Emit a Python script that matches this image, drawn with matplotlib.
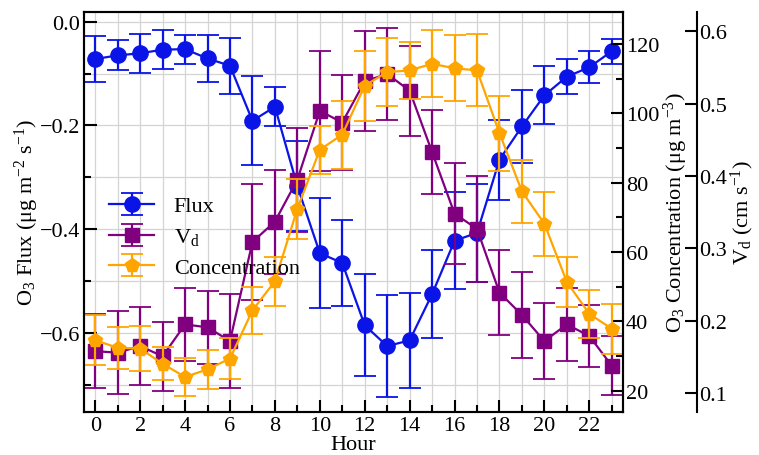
import numpy as np
import matplotlib
matplotlib.use("Agg")
import matplotlib.pyplot as plt
from matplotlib.ticker import MultipleLocator

plt.rcParams['font.family'] = ['Liberation Serif', 'DejaVu Serif']
plt.rcParams['mathtext.fontset'] = 'custom'
plt.rcParams['mathtext.rm'] = 'Liberation Serif'
plt.rcParams['mathtext.it'] = 'Liberation Serif:italic'
plt.rcParams['font.size'] = 16

# hourly means and errors
hours = list(range(24))
flux = [-0.072, -0.065, -0.061, -0.054, -0.053, -0.071, -0.085, -0.191, -0.164, -0.317,
        -0.446, -0.465, -0.585, -0.625, -0.614, -0.525, -0.422, -0.407, -0.266, -0.202,
        -0.142, -0.106, -0.088, -0.057]
flux_err = [0.044, 0.029, 0.037, 0.037, 0.028, 0.045, 0.054, 0.086, 0.038, 0.087,
            0.106, 0.083, 0.098, 0.098, 0.092, 0.085, 0.094, 0.095, 0.077, 0.071,
            0.056, 0.034, 0.031, 0.024]
vd = [0.158, 0.156, 0.165, 0.151, 0.195, 0.191, 0.172, 0.309, 0.337, 0.395,
      0.490, 0.474, 0.531, 0.541, 0.518, 0.433, 0.348, 0.327, 0.239, 0.208,
      0.172, 0.195, 0.179, 0.138]
vd_err = [0.051, 0.057, 0.054, 0.048, 0.050, 0.050, 0.065, 0.080, 0.072, 0.072,
          0.083, 0.066, 0.069, 0.064, 0.062, 0.058, 0.070, 0.073, 0.059, 0.060,
          0.053, 0.051, 0.043, 0.041]
conc = [34.6, 32.4, 32.2, 27.8, 24.0, 26.2, 29.3, 43.2, 51.6, 72.5,
        89.5, 93.9, 108.0, 111.9, 112.4, 114.3, 113.0, 112.4, 94.3, 77.5,
        68.2, 51.4, 42.2, 37.9]
conc_err = [7.2, 6.0, 6.5, 4.7, 5.5, 5.7, 5.8, 6.7, 7.0, 8.6,
            7.0, 9.8, 10.1, 9.9, 8.3, 9.6, 9.5, 10.4, 10.8, 9.2,
            9.2, 7.3, 6.9, 7.2]

fig = plt.figure(figsize=(7.59, 4.56), dpi=100)
ax = fig.add_axes([0.1107, 0.0943, 0.7101, 0.8777])
ax3 = ax.twinx()
ax2 = ax.twinx()

kw = dict(lw=1.6, elinewidth=1.6, capsize=8, capthick=1.3)
h1 = ax.errorbar(hours, flux, yerr=flux_err, color='#0a14e6', marker='o', ms=11,
                 label='Flux', **kw)
h2 = ax3.errorbar(hours, vd, yerr=vd_err, color='#800080', marker='s', ms=10,
                  label='V$_\\mathrm{d}$', **kw)
h3 = ax2.errorbar(hours, conc, yerr=conc_err, color='#ffa500', marker='p', ms=10,
                  label='Concentration', **kw)

ax.set_xlim(-0.5, 23.5)
ax.set_ylim(-0.752, 0.019)
ax2.set_ylim(13.9, 129.3)
ax3.set_ylim(0.074, 0.627)

ax.xaxis.set_major_locator(MultipleLocator(2))
ax.xaxis.set_minor_locator(MultipleLocator(1))
ax.yaxis.set_major_locator(MultipleLocator(0.2))
ax.yaxis.set_minor_locator(MultipleLocator(0.1))
ax2.yaxis.set_major_locator(MultipleLocator(20))
ax2.yaxis.set_minor_locator(MultipleLocator(10))
ax3.yaxis.set_major_locator(MultipleLocator(0.1))

ax.grid(which='both', color='#d4d4d4', lw=0.9)
ax.set_axisbelow(True)

for a in (ax, ax2, ax3):
    for s in a.spines.values():
        s.set_linewidth(1.5)
ax.tick_params(which='both', direction='in', top=False, right=False, width=1.5)
ax.tick_params(which='major', length=9, pad=3)
ax.tick_params(which='minor', length=5)
ax2.tick_params(which='both', direction='in', width=1.5, pad=2)
ax2.tick_params(which='major', length=9)
ax2.tick_params(which='minor', length=5)

ax3.spines['right'].set_position(('axes', 1.137))
for s in ('top', 'left', 'bottom'):
    ax3.spines[s].set_visible(False)
ax3.tick_params(which='both', direction='in', width=1.5, length=9, pad=2)

ax.set_xlabel('Hour', labelpad=0)
ax.set_ylabel('O$_3$ Flux (μg m$^{-2}$ s$^{-1}$)', labelpad=-1)
ax2.set_ylabel('O$_3$ Concentration (μg m$^{-3}$)', labelpad=2)
ax3.set_ylabel('V$_\\mathrm{d}$ (cm s$^{-1}$)', labelpad=1)

ax2.legend([h1, h2, h3], ['Flux', 'V$_\\mathrm{d}$', 'Concentration'],
           loc='upper left', bbox_to_anchor=(0.01, 0.59), frameon=False,
           handlelength=2.0, labelspacing=0.45, handletextpad=0.9)

fig.savefig('out.png', dpi=100)
